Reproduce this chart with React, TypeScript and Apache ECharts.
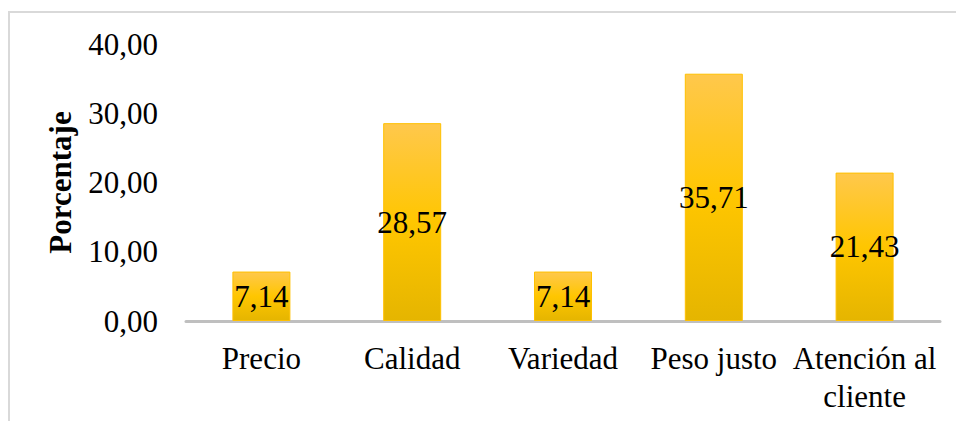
import React, { useEffect, useRef } from "react";
import * as echarts from "echarts";

const categories = ["Precio", "Calidad", "Variedad", "Peso justo", "Atención al\ncliente"];
const values = [7.14, 28.57, 7.14, 35.71, 21.43];
const yTicks = [0, 10, 20, 30, 40];

const fmt = (v: number) => v.toFixed(2).replace(".", ",");

export default function App() {
  const ref = useRef<HTMLDivElement>(null);
  useEffect(() => {
    if (!ref.current) return;
    const chart = echarts.init(ref.current, null, { renderer: "svg" });
    const font = "'Liberation Serif', 'Times New Roman', serif";
    chart.setOption({
      animation: false,
      backgroundColor: "#ffffff",
      textStyle: { fontFamily: font },
      graphic: [
        {
          type: "rect",
          shape: { x: 9, y: 12, width: 1000, height: 500 },
          style: { fill: "none", stroke: "#d9d9d9", lineWidth: 2 },
          silent: true,
          z: -1,
        },
      ],
      grid: { left: 186, right: 16, top: 44, bottom: 100 },
      xAxis: {
        type: "category",
        data: categories,
        axisLine: { show: true, lineStyle: { color: "#bfbfbf", width: 3 } },
        axisTick: { show: false },
        axisLabel: {
          color: "#000",
          fontFamily: font,
          fontSize: 31,
          lineHeight: 38,
          margin: 18,
          interval: 0,
        },
      },
      yAxis: {
        type: "value",
        min: yTicks[0],
        max: yTicks[yTicks.length - 1],
        interval: 10,
        name: "Porcentaje",
        nameLocation: "middle",
        nameGap: 110,
        nameRotate: 90,
        nameTextStyle: { color: "#000", fontFamily: font, fontSize: 31, fontWeight: "bold" },
        axisLine: { show: false },
        axisTick: { show: false },
        splitLine: { show: false },
        axisLabel: {
          color: "#000",
          fontFamily: font,
          fontSize: 31,
          margin: 28,
          formatter: (v: number) => fmt(v),
        },
      },
      series: [
        {
          type: "bar",
          data: values,
          barWidth: 58,
          itemStyle: {
            color: new echarts.graphic.LinearGradient(0, 0, 0, 1, [
              { offset: 0, color: "#ffc84c" },
              { offset: 0.5, color: "#ffc600" },
              { offset: 1, color: "#e5b500" },
            ]),
            borderColor: "#ffc000",
            borderWidth: 1,
          },
          label: {
            show: true,
            position: "inside",
            color: "#000",
            fontFamily: font,
            fontSize: 31,
            formatter: (p: any) => fmt(p.value),
          },
        },
      ],
    });
    return () => chart.dispose();
  }, []);
  return (
    <div
      ref={ref}
      style={{ position: "fixed", left: 0, top: 0, width: 956, height: 421 }}
    />
  );
}
